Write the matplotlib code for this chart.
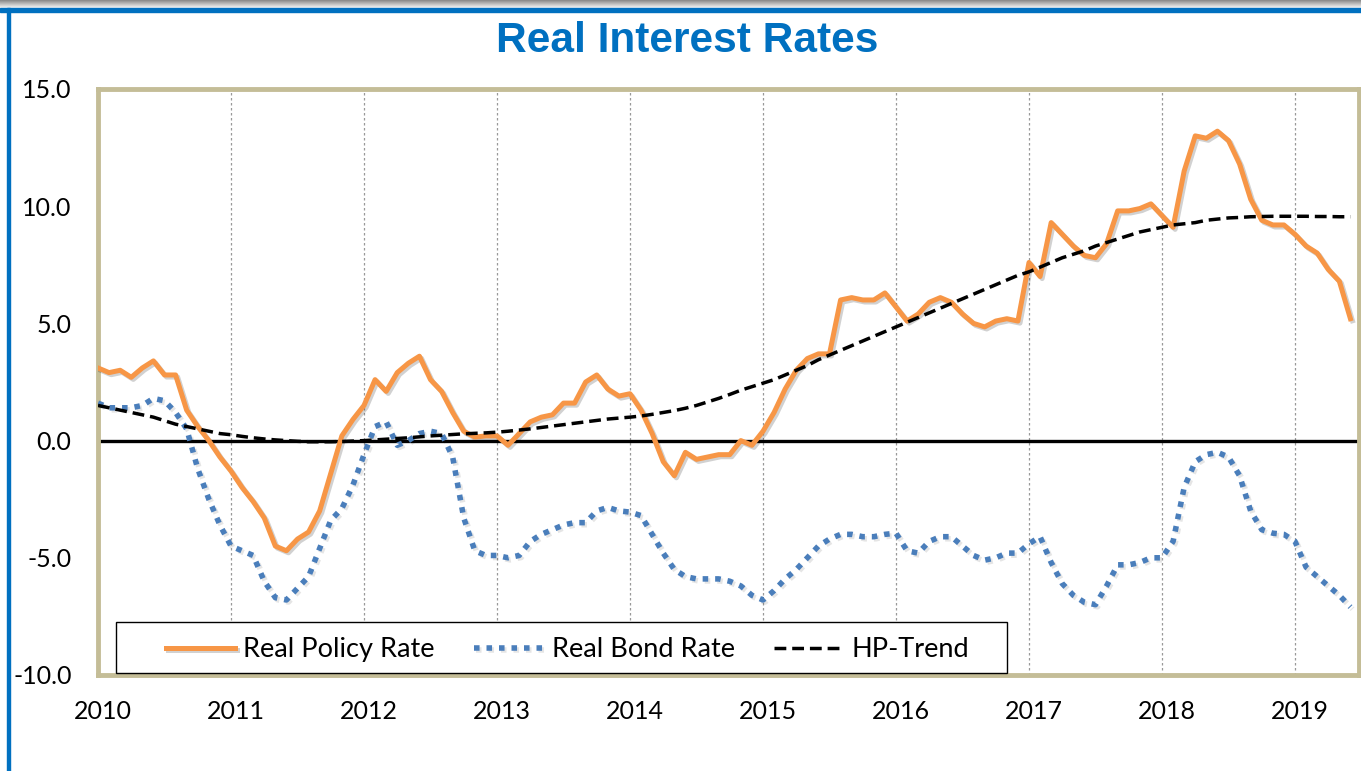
import numpy as np
import matplotlib
matplotlib.use("Agg")
import matplotlib.pyplot as plt
import matplotlib.patheffects as pe
import matplotlib.transforms as mtransforms
from matplotlib.patches import Rectangle

# ── 1. Data (monthly, Jan 2010 - Jun 2019) ────────────────────────
start_year = 2010
policy_rate = [
    3.1, 2.9, 3.0, 2.7, 3.1, 3.4, 2.8, 2.8, 1.3, 0.6, 0.0, -0.7,          # 2010
    -1.3, -2.0, -2.6, -3.3, -4.5, -4.7, -4.2, -3.9, -3.0, -1.4, 0.2, 0.9,  # 2011
    1.5, 2.6, 2.1, 2.9, 3.3, 3.6, 2.6, 2.1, 1.2, 0.4, 0.15, 0.2,          # 2012
    0.2, -0.2, 0.3, 0.8, 1.0, 1.1, 1.6, 1.6, 2.5, 2.8, 2.2, 1.9,          # 2013
    2.0, 1.3, 0.3, -0.9, -1.5, -0.5, -0.8, -0.7, -0.6, -0.6, 0.0, -0.2,   # 2014
    0.4, 1.2, 2.2, 3.0, 3.5, 3.7, 3.7, 6.0, 6.1, 6.0, 6.0, 6.3,           # 2015
    5.7, 5.1, 5.4, 5.9, 6.1, 5.9, 5.4, 5.0, 4.85, 5.1, 5.2, 5.1,          # 2016
    7.6, 7.0, 9.3, 8.8, 8.3, 7.9, 7.8, 8.4, 9.8, 9.8, 9.9, 10.1,          # 2017
    9.6, 9.1, 11.5, 13.0, 12.9, 13.2, 12.8, 11.8, 10.3, 9.4, 9.2, 9.2,    # 2018
    8.8, 8.3, 8.0, 7.3, 6.8, 5.2,                                         # 2019
]
bond_rate = [
    1.6, 1.4, 1.4, 1.4, 1.5, 1.8, 1.7, 1.2, 0.5, -1.2, -2.5, -3.6,
    -4.5, -4.7, -4.9, -6.0, -6.7, -6.8, -6.3, -5.8, -4.6, -3.4, -2.9, -1.9,
    -0.6, 0.6, 0.8, -0.2, 0.0, 0.3, 0.4, 0.3, -0.7, -3.3, -4.7, -4.9,
    -4.9, -5.0, -4.9, -4.3, -4.0, -3.8, -3.6, -3.5, -3.5, -3.0, -2.85, -3.0,
    -3.05, -3.2, -4.0, -4.8, -5.5, -5.8, -5.9, -5.9, -5.9, -6.0, -6.2, -6.6,
    -6.8, -6.4, -5.9, -5.5, -5.0, -4.5, -4.2, -4.0, -4.0, -4.1, -4.1, -4.0,
    -3.95, -4.7, -4.8, -4.3, -4.1, -4.1, -4.5, -4.9, -5.1, -5.0, -4.8, -4.8,
    -4.4, -4.1, -5.2, -6.1, -6.6, -6.9, -7.0, -6.2, -5.3, -5.3, -5.2, -5.0,
    -5.0, -4.3, -2.0, -0.9, -0.6, -0.5, -0.7, -1.5, -3.0, -3.8, -3.95, -4.0,
    -4.3, -5.4, -5.8, -6.2, -6.6, -7.1,
]
hp_trend = [
    1.5, 1.4, 1.3, 1.2, 1.1, 1.0, 0.85, 0.7, 0.6, 0.5, 0.4, 0.3,
    0.25, 0.18, 0.12, 0.07, 0.03, 0.0, -0.03, -0.05, -0.05, -0.05, -0.04, -0.02,
    0.0, 0.03, 0.06, 0.09, 0.12, 0.16, 0.2, 0.23, 0.26, 0.29, 0.31, 0.33,
    0.36, 0.4, 0.45, 0.5, 0.56, 0.62, 0.68, 0.74, 0.8, 0.86, 0.92, 0.96,
    1.0, 1.05, 1.12, 1.2, 1.28, 1.38, 1.5, 1.65, 1.8, 1.97, 2.15, 2.3,
    2.45, 2.6, 2.8, 3.0, 3.2, 3.45, 3.65, 3.85, 4.05, 4.25, 4.45, 4.65,
    4.85, 5.05, 5.25, 5.45, 5.65, 5.85, 6.05, 6.25, 6.45, 6.65, 6.85, 7.05,
    7.2, 7.4, 7.6, 7.8, 7.95, 8.1, 8.3, 8.45, 8.6, 8.75, 8.9, 9.0,
    9.1, 9.2, 9.25, 9.3, 9.4, 9.45, 9.5, 9.52, 9.55, 9.56, 9.57, 9.57,
    9.57, 9.57, 9.56, 9.56, 9.55, 9.55,
]
year_ticks = list(range(2010, 2020))
y_ticks = [-10, -5, 0, 5, 10, 15]

dates = start_year + np.arange(len(policy_rate)) / 12

# ── 2. Figure ─────────────────────────────────────────────────────
W, H = 1361, 771
fig = plt.figure(figsize=(W / 100, H / 100), dpi=100)
plt.rcParams["font.family"] = ["Lato", "DejaVu Sans"]

# grey strip + blue frame lines round the chart
top_strip = fig.add_axes([0, 1 - 8 / H, 1, 8 / H])
top_strip.imshow(np.linspace(0.55, 0.95, 8).reshape(-1, 1), cmap="gray",
                 aspect="auto", vmin=0, vmax=1)
top_strip.axis("off")
fig.patches.append(Rectangle((0, 1 - 12 / H), 1, 4 / H, transform=fig.transFigure,
                             color="#0070c0", zorder=5))
fig.patches.append(Rectangle((7 / W, 0), 3 / W, 1 - 8 / H, transform=fig.transFigure,
                             color="#0070c0", zorder=5))

fig.text(687 / W, 1 - 41 / H, "Real Interest Rates", ha="center", va="center",
         fontsize=30.5, fontweight="bold", color="#0070c0", family="Liberation Sans")

ax = fig.add_axes([98 / W, (H - 675) / H, 1261 / W, 586 / H])

shadow = [pe.SimpleLineShadow(offset=(1.5, -1.5), alpha=0.18, shadow_color="black"),
          pe.Normal()]
light_shadow = [pe.SimpleLineShadow(offset=(1.5, -1.5), alpha=0.1, shadow_color="black"),
                pe.Normal()]

ax.plot(dates, policy_rate, color="#f79646", lw=3.6, label="Real Policy Rate",
        solid_joinstyle="round", path_effects=shadow, zorder=4)
ax.plot(dates, bond_rate, color="#4a7ebb", lw=4.0, linestyle=(0, (1.0, 1.25)),
        dash_capstyle="butt", label="Real Bond Rate", path_effects=light_shadow,
        zorder=3)
ax.plot(dates, hp_trend, color="black", lw=2.5, linestyle=(0, (3.4, 1.7)),
        label="HP-Trend", zorder=5)
ax.axhline(0, color="black", lw=2.4, zorder=2)

for yr in year_ticks[1:]:
    ax.axvline(yr, color="#999999", lw=0.9, linestyle=(0, (2, 2)), zorder=1)

ax.set_xlim(2010, 2010 + 1261 / 133)
ax.set_ylim(-10, 15)
ax.set_xticks(year_ticks)
ax.set_xticklabels([str(y) for y in year_ticks])
ax.set_yticks(y_ticks)
ax.set_yticklabels([f"{v:.1f}" for v in y_ticks])
ax.tick_params(length=0, labelsize=18, colors="black")
ax.tick_params(axis="y", pad=19)
ax.tick_params(axis="x", pad=18)
offset = mtransforms.ScaledTranslation(5 / 100, 0, fig.dpi_scale_trans)
for lbl in ax.get_xticklabels():
    lbl.set_transform(lbl.get_transform() + offset)

for sp in ax.spines.values():
    sp.set_color("#c4bd97")
    sp.set_linewidth(3.5)

# legend: own frame box, entries spread across it
ax_w, ax_h = 1261, 586
ax.add_patch(Rectangle((18 / ax_w, 2 / ax_h), 891 / ax_w, 51 / ax_h,
                       transform=ax.transAxes, facecolor="white", edgecolor="black",
                       lw=1.0, zorder=9))
leg = ax.legend(loc="center", ncol=3, mode="expand", frameon=False,
                bbox_to_anchor=(68 / ax_w, 0, 803 / ax_w, 51 / ax_h),
                fontsize=19.5, handlelength=2.55, handletextpad=0.3,
                borderaxespad=0, borderpad=0)
leg.set_zorder(10)

fig.savefig("out.png", dpi=100)
